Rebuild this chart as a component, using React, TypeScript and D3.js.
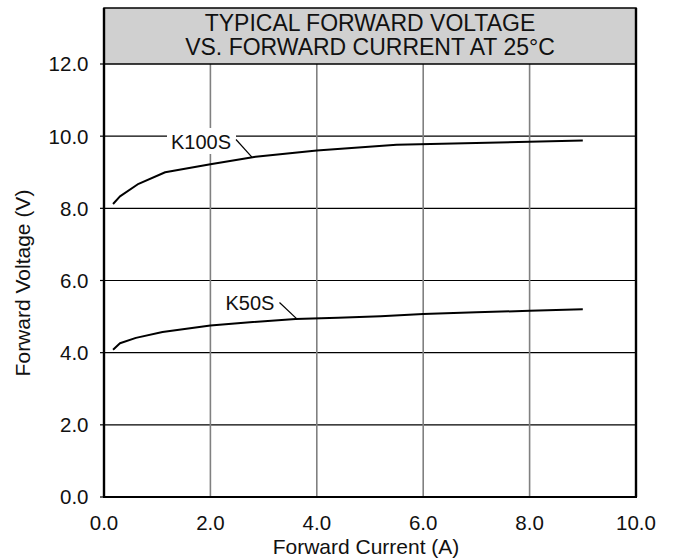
import React from "react";
import * as d3 from "d3";

const xTicks = [0, 2, 4, 6, 8, 10];
const yTicks = [0, 2, 4, 6, 8, 10, 12];
const titleLines = ["TYPICAL FORWARD VOLTAGE", "VS. FORWARD CURRENT AT 25°C"];

const k100sCurrent = [0.17, 0.3, 0.65, 1.15, 2.0, 2.85, 4.0, 5.5, 9.0];
const k100sVoltage = [8.12, 8.33, 8.68, 9.0, 9.22, 9.43, 9.6, 9.76, 9.88];
const k50sCurrent = [0.17, 0.3, 0.6, 1.1, 2.0, 2.8, 3.6, 4.4, 5.2, 6.0, 7.0, 8.0, 9.0];
const k50sVoltage = [4.08, 4.26, 4.41, 4.57, 4.75, 4.85, 4.93, 4.97, 5.01, 5.07, 5.12, 5.16, 5.2];

const FONT = "'Liberation Sans', Arial, Helvetica, sans-serif";

export default function App() {
  const W = 675, H = 560;
  const x = d3.scaleLinear().domain([0, 10]).range([104, 636]);
  const y = d3.scaleLinear().domain([0, 12]).range([497, 64]);
  const line = d3
    .line<[number, number]>()
    .x((d) => x(d[0]))
    .y((d) => y(d[1]))
    .curve(d3.curveLinear);
  const k100 = k100sCurrent.map((c, i) => [c, k100sVoltage[i]] as [number, number]);
  const k50 = k50sCurrent.map((c, i) => [c, k50sVoltage[i]] as [number, number]);
  const boxTop = 8;

  return (
    <div style={{ position: "absolute", left: 0, top: 0 }}>
      <svg width={W} height={H} style={{ display: "block", fontFamily: FONT }}>
        <rect x={0} y={0} width={W} height={H} fill="#fff" />
        {/* horizontal gridlines */}
        {yTicks.filter((t) => t > 0 && t < 12).map((t) => (
          <line key={"h" + t} x1={x(0)} x2={x(10)} y1={y(t)} y2={y(t)} stroke="#000" strokeWidth={1.2} />
        ))}
        {/* vertical gridlines */}
        {xTicks.filter((t) => t > 0 && t < 10).map((t) => (
          <line key={"v" + t} x1={x(t)} x2={x(t)} y1={y(12)} y2={y(0)} stroke="#808080" strokeWidth={1.6} />
        ))}
        {/* header box */}
        <rect x={x(0)} y={boxTop} width={x(10) - x(0)} height={y(12) - boxTop} fill="#d0d0d0" stroke="#000" strokeWidth={1.5} />
        {titleLines.map((t, i) => (
          <text key={t} x={(x(0) + x(10)) / 2} y={31 + i * 24} textAnchor="middle" fontSize={23} fill="#111">
            {t}
          </text>
        ))}
        {/* frame */}
        <line x1={x(0)} x2={x(0)} y1={boxTop} y2={y(0)} stroke="#000" strokeWidth={2.4} />
        <line x1={x(10)} x2={x(10)} y1={boxTop} y2={y(0)} stroke="#000" strokeWidth={2.4} />
        <line x1={x(0) - 1} x2={x(10) + 1} y1={y(0)} y2={y(0)} stroke="#000" strokeWidth={2.2} />
        {/* y ticks */}
        {yTicks.map((t) => (
          <g key={"yt" + t}>
            <line x1={x(0) - 4} x2={x(0)} y1={y(t)} y2={y(t)} stroke="#000" strokeWidth={1.2} />
            <text x={88.5} y={y(t)} dy="0.36em" textAnchor="end" fontSize={20.5} fill="#111">
              {t.toFixed(1)}
            </text>
          </g>
        ))}
        {/* x ticks */}
        {xTicks.map((t) => (
          <text key={"xt" + t} x={x(t)} y={530} textAnchor="middle" fontSize={20.5} fill="#111">
            {t.toFixed(1)}
          </text>
        ))}
        <text x={366} y={554} textAnchor="middle" fontSize={21} fill="#111">
          Forward Current (A)
        </text>
        <text transform={`translate(30,283) rotate(-90)`} textAnchor="middle" fontSize={21} fill="#111">
          Forward Voltage (V)
        </text>
        {/* curves */}
        <path d={line(k100) || ""} fill="none" stroke="#000" strokeWidth={2} strokeLinejoin="round" />
        <path d={line(k50) || ""} fill="none" stroke="#000" strokeWidth={2} strokeLinejoin="round" />
        {/* labels */}
        <rect x={167} y={128} width={69} height={26} fill="#fff" />
        <text x={201} y={149} textAnchor="middle" fontSize={20} fill="#111">K100S</text>
        <line x1={236} y1={139.5} x2={x(2.78)} y2={y(9.42)} stroke="#000" strokeWidth={1.2} />
        <rect x={222} y={291} width={56} height={24} fill="#fff" />
        <text x={250} y={310} textAnchor="middle" fontSize={20} fill="#111">K50S</text>
        <line x1={279.5} y1={302.5} x2={x(3.63)} y2={y(4.93)} stroke="#000" strokeWidth={1.2} />
      </svg>
    </div>
  );
}
